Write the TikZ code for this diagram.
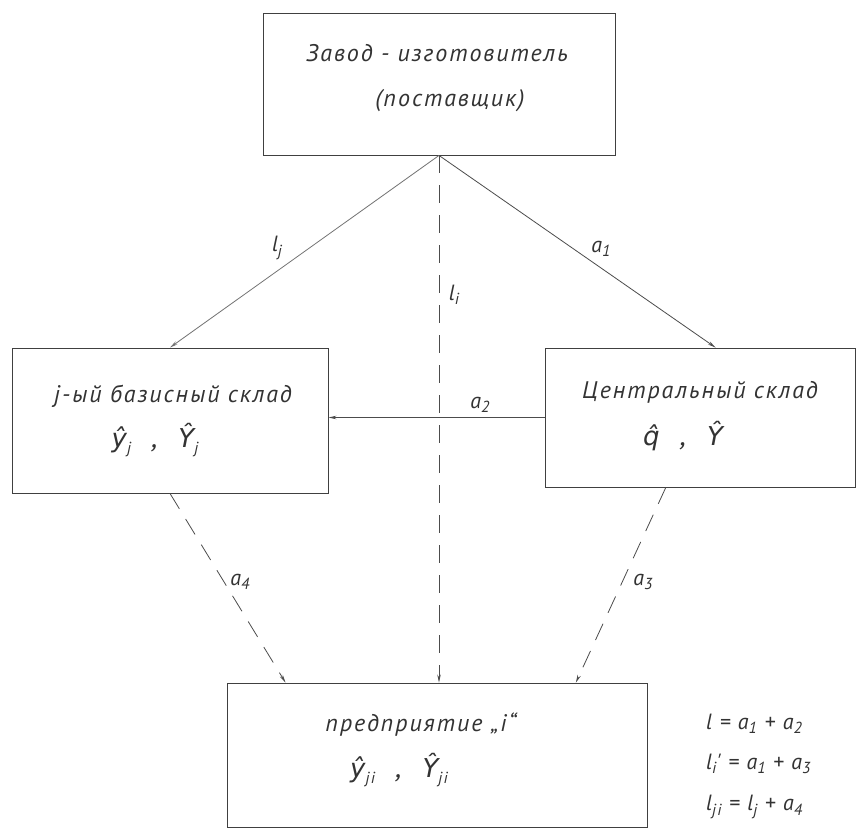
\documentclass[tikz,border=0pt]{standalone}
\usepackage{fontspec}
\newfontfamily\hand[LetterSpace=8]{PT Sans}
\newfontfamily\hatf{DejaVu Sans}
\newcommand\sbs[1]{\raisebox{-0.4ex}{\fontsize{16}{18}\selectfont #1}}
\newcommand\hl[1]{{\hatf\itshape\fontsize{26}{30}\selectfont #1}}
\usetikzlibrary{calc,arrows.meta}
\begin{document}
\begin{tikzpicture}[x=1pt,y=-1pt,
  box/.style={draw=black!75, line width=0.9pt, inner sep=0pt},
  lbl/.style={font=\hand\itshape\fontsize{24}{28}\selectfont, text=black!80, inner sep=1pt},
  big/.style={font=\hand\itshape\fontsize{30}{34}\selectfont, text=black!80, inner sep=1pt},
  mlbl/.style={font=\hand\itshape\fontsize{22}{26}\selectfont, text=black!80, inner sep=1pt},
  conn/.style={draw=black!70, line width=0.8pt, -{Stealth[length=8pt,width=3.5pt]}},
  dconn/.style={conn, dash pattern=on 18pt off 12pt}]
\useasboundingbox (0,0) rectangle (857,829);
\fill[white] (0,0) rectangle (857,829);

% boxes
\node[box, minimum width=352pt, minimum height=142pt] (top) at (439,84) {};
\node[box, minimum width=316pt, minimum height=145pt] (left) at (170,420.5) {};
\node[box, minimum width=310pt, minimum height=139pt] (cen) at (700,417.5) {};
\node[box, minimum width=420pt, minimum height=144pt] (bot) at (437,755) {};

% box texts
\node[lbl] (t1) at (437,53) {Завод - изготовитель};
\node[lbl] (t2) at (450,101) {(поставщик)};
\node[lbl] (l1) at (173,396) {j-ый базисный склад};
\node[big] (l2) at (155,440) {\hl{ŷ}\sbs{j}\ \ ,\ \ \hl{Ŷ}\sbs{j}};
\node[lbl] (c1) at (700,392) {Центральный склад};
\node[big] (c2) at (683,436) {\hl{q̂}\ \ ,\ \ \hl{Ŷ}};
\node[lbl] (b1) at (421,725) {предприятие „i“};
\node[big] (b2) at (399,770) {\hl{ŷ}\sbs{ji}\ \ ,\ \ \hl{Ŷ}\sbs{ji}};

% connector end points
\coordinate (topout) at ($(top.south west)!0.5!(top.south east)$);
\coordinate (cenin) at ($(cen.north west)!0.55!(cen.north east)$);
\coordinate (cenout) at ($(cen.south west)!0.39!(cen.south east)$);
\coordinate (botl) at ($(bot.north west)!0.14!(bot.north east)$);
\coordinate (botr) at ($(bot.north west)!0.83!(bot.north east)$);

% connectors
\draw[conn, draw=black!55] (topout) -- (left.north);
\draw[conn] (topout) -- (cenin);
\draw[dconn] (topout) -- (topout |- bot.north);
\draw[conn] (cen.west) -- (cen.west -| left.east);
\draw[dconn] (left.south) -- (botl);
\draw[dconn] (cenout) -- (botr);

% connector labels
\node[mlbl] (llj) at (277,248) {l\sbs{j}};
\node[mlbl] (la1) at (601,249) {a\sbs{1}};
\node[mlbl] (lli) at (454,295) {l\sbs{i}};
\node[mlbl] (la2) at (480,405) {a\sbs{2}};
\node[mlbl] (la4) at (240,582) {a\sbs{4}};
\node[mlbl] (la3) at (643,582) {a\sbs{3}};

% formulas
\node[mlbl, anchor=west] (f1) at (705,724) {l = a\sbs{1} + a\sbs{2}};
\node[mlbl, anchor=west] (f2) at (705,764) {l\sbs{i}' = a\sbs{1} + a\sbs{3}};
\node[mlbl, anchor=west] (f3) at (705,807) {l\sbs{ji} = l\sbs{j} + a\sbs{4}};
\end{tikzpicture}
\end{document}
